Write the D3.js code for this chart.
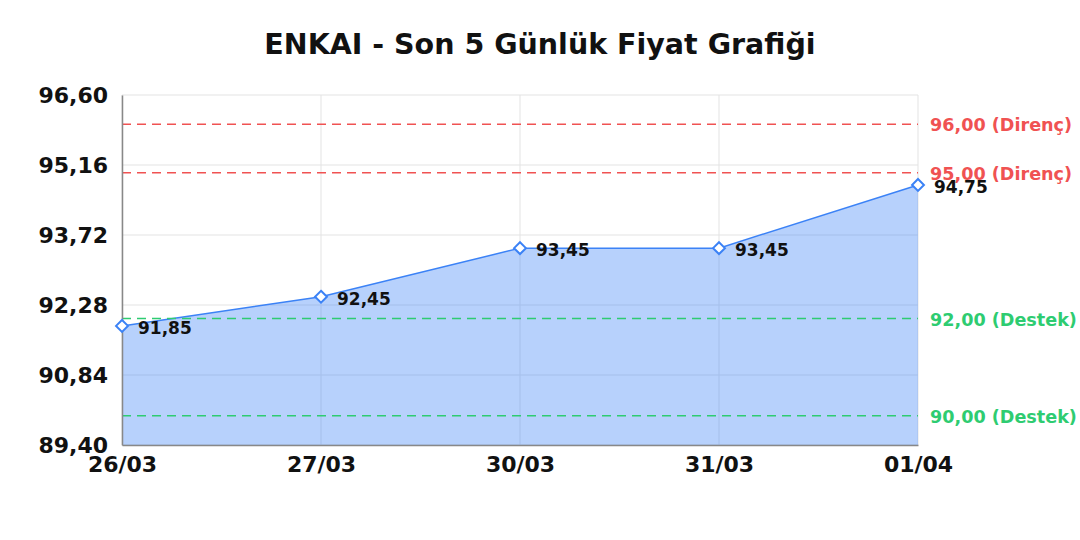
<!DOCTYPE html>
<html>
<head>
<meta charset="utf-8">
<script src="https://cdn.jsdelivr.net/npm/d3@7"></script>
<style>
  html, body { margin: 0; padding: 0; background: #fff; }
  svg { display: block; font-family: "DejaVu Sans", sans-serif; }
</style>
</head>
<body>
<div id="chart"></div>
<script>
// ---- data ----
const dates = ["26/03", "27/03", "30/03", "31/03", "01/04"];
const prices = [91.85, 92.45, 93.45, 93.45, 94.75];
const yTicks = [89.40, 90.84, 92.28, 93.72, 95.16, 96.60];
const resistance = [96.00, 95.00];
const support = [92.00, 90.00];
const title = "ENKAI - Son 5 Günlük Fiyat Grafiği";

const W = 1080, H = 540;
const margin = { top: 95, right: 162, bottom: 95, left: 122 };

const fmt = v => v.toFixed(2).replace(".", ",");

const svg = d3.select("#chart").append("svg")
  .attr("width", W).attr("height", H);

const x = d3.scalePoint()
  .domain(dates)
  .range([margin.left, W - margin.right]);

const y = d3.scaleLinear()
  .domain([yTicks[0], yTicks[yTicks.length - 1]])
  .range([H - margin.bottom, margin.top]);

const plotB = H - margin.bottom;

// title
svg.append("text")
  .attr("x", W / 2).attr("y", 54)
  .attr("text-anchor", "middle")
  .attr("font-size", 28.5).attr("font-weight", "bold")
  .attr("fill", "#111")
  .text(title);

// grid
svg.append("g")
  .selectAll("line")
  .data(yTicks)
  .join("line")
  .attr("x1", margin.left).attr("x2", W - margin.right)
  .attr("y1", d => y(d)).attr("y2", d => y(d))
  .attr("stroke", "#e3e3e3").attr("stroke-width", 1);

svg.append("g")
  .selectAll("line")
  .data(dates)
  .join("line")
  .attr("x1", d => x(d)).attr("x2", d => x(d))
  .attr("y1", margin.top).attr("y2", plotB)
  .attr("stroke", "#e3e3e3").attr("stroke-width", 1);

// area + line
const pts = dates.map((d, i) => ({ d, v: prices[i] }));

svg.append("path")
  .datum(pts)
  .attr("d", d3.area().x(p => x(p.d)).y0(plotB).y1(p => y(p.v)))
  .attr("fill", "rgba(59,130,246,0.37)");

svg.append("path")
  .datum(pts)
  .attr("d", d3.line().x(p => x(p.d)).y(p => y(p.v)))
  .attr("fill", "none")
  .attr("stroke", "#3b82f6").attr("stroke-width", 1.5);

// reference lines
const refs = resistance.map(v => ({ v, label: `${fmt(v)} (Direnç)`, color: "#f05252" }))
  .concat(support.map(v => ({ v, label: `${fmt(v)} (Destek)`, color: "#2ecc71" })));

const refG = svg.append("g");
refG.selectAll("line")
  .data(refs)
  .join("line")
  .attr("x1", margin.left).attr("x2", W - margin.right)
  .attr("y1", d => y(d.v)).attr("y2", d => y(d.v))
  .attr("stroke", d => d.color).attr("stroke-width", 1.5)
  .attr("stroke-dasharray", "9,6");

refG.selectAll("text")
  .data(refs)
  .join("text")
  .attr("x", W - margin.right + 12)
  .attr("y", d => y(d.v) + 2)
  .attr("dominant-baseline", "middle")
  .attr("font-size", 17.6).attr("font-weight", "bold")
  .attr("fill", d => d.color)
  .text(d => d.label);

// axes
const yAxis = svg.append("g")
  .attr("transform", `translate(${margin.left},0)`)
  .call(d3.axisLeft(y).tickValues(yTicks).tickFormat(fmt).tickSize(0).tickPadding(14));
yAxis.select(".domain").attr("stroke", "#888").attr("stroke-width", 1.5);
yAxis.selectAll("text")
  .attr("font-size", 22).attr("font-weight", "bold")
  .attr("font-family", "DejaVu Sans").attr("fill", "#111");

const xAxis = svg.append("g")
  .attr("transform", `translate(0,${plotB})`)
  .call(d3.axisBottom(x).tickSize(0).tickPadding(11));
xAxis.select(".domain").attr("stroke", "#888").attr("stroke-width", 1.5);
xAxis.selectAll("text")
  .attr("font-size", 22).attr("font-weight", "bold")
  .attr("font-family", "DejaVu Sans").attr("fill", "#111");

// markers + labels
svg.append("g")
  .selectAll("path")
  .data(pts)
  .join("path")
  .attr("transform", p => `translate(${x(p.d)},${y(p.v)})`)
  .attr("d", d3.symbol(d3.symbolDiamond2, 90))
  .attr("fill", "#fff")
  .attr("stroke", "#3b82f6").attr("stroke-width", 2);

svg.append("g")
  .selectAll("text")
  .data(pts)
  .join("text")
  .attr("x", p => x(p.d) + 16)
  .attr("y", p => y(p.v) + 3)
  .attr("dominant-baseline", "middle")
  .attr("font-size", 17).attr("font-weight", "bold")
  .attr("fill", "#111")
  .text(p => fmt(p.v));
</script>
</body>
</html>
